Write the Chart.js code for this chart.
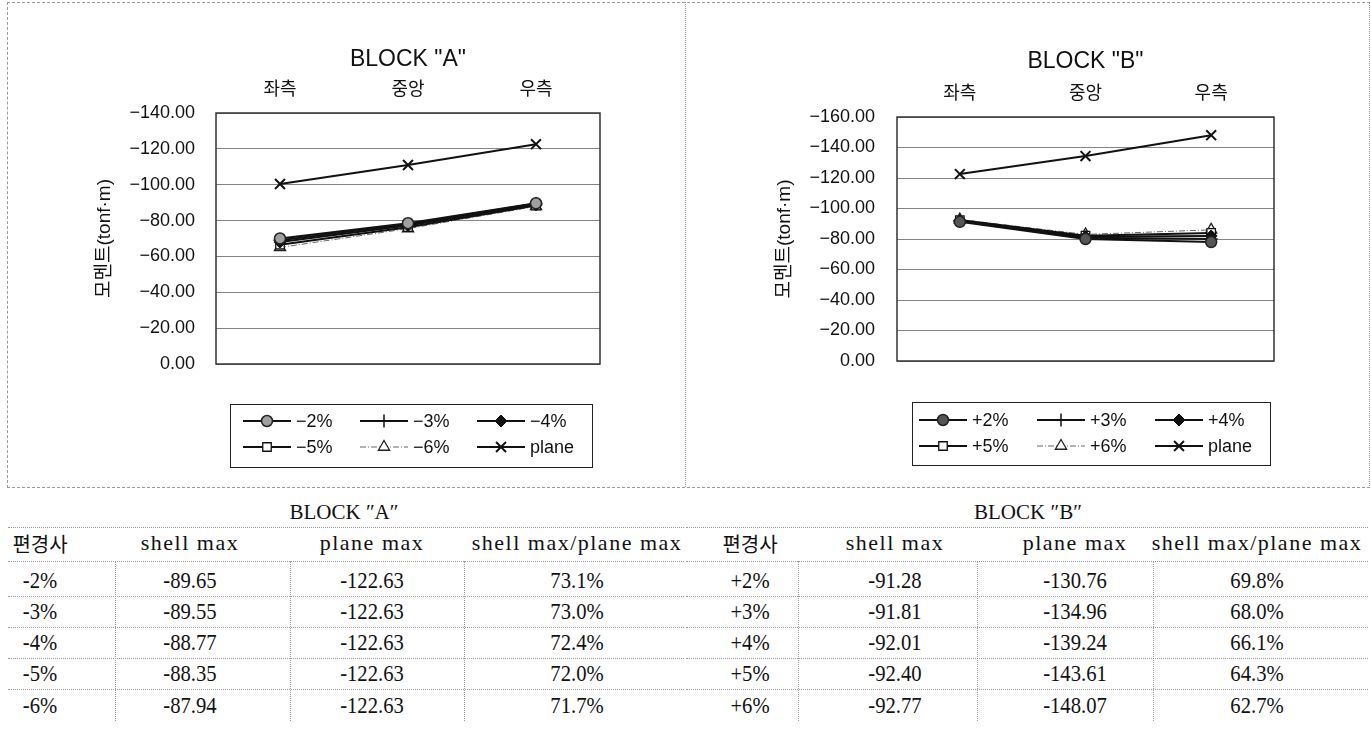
<!DOCTYPE html>
<html>
<head>
<meta charset="utf-8">
<script src="https://cdn.jsdelivr.net/npm/chart.js@4.4.1/dist/chart.umd.min.js"></script>
<style>
  html, body { margin: 0; padding: 0; background: #fff; }
  #page { position: relative; width: 1371px; height: 736px; overflow: hidden; background: #fff; }
  canvas { position: absolute; }
  .hl { position: absolute; height: 0; border-top: 1px dotted #9a9a9a; }
  .vl { position: absolute; width: 0; border-left: 1px dotted #9a9a9a; }
  .cell { position: absolute; transform: translate(-50%, -50%) scaleX(0.86); white-space: nowrap;
          font-family: 'Liberation Serif', 'Noto Sans CJK KR', serif; font-size: 24px; color: #111; }
  .txt { transform: translate(-50%, -50%); font-size: 22px; letter-spacing: 1.5px; }
  .kr { transform: translate(-50%, -50%); font-size: 20px; }
  .ttl { transform: translate(-50%, -50%); font-size: 21px; }
</style>
</head>
<body>
<div id="page">
  <div style="position:absolute;left:7px;top:2px;width:1361px;height:484px;border:1px dashed #9a9a9a;border-right-style:dotted;"></div>
  <div class="vl" style="left:685px;top:2px;height:485px;"></div>
  <canvas id="chartA" width="676" height="485" style="left:8px;top:2px;width:676px;height:485px;"></canvas>
  <canvas id="chartB" width="683" height="485" style="left:686px;top:2px;width:683px;height:485px;"></canvas>
  <div id="tables"></div>
</div>
<script>
// Positions along the span (top category axis)
const positions = ['좌측', '중앙', '우측'];

// BLOCK "A" moments (tonf·m), negative slope cases
const aSeriesLabels = ['−2%', '−3%', '−4%', '−5%', '−6%', 'plane'];
const aMinus2 = [-70.0, -78.5, -89.65];
const aMinus3 = [-69.0, -78.0, -89.55];
const aMinus4 = [-68.0, -77.2, -88.77];
const aMinus5 = [-66.5, -76.3, -88.35];
const aMinus6 = [-65.0, -75.5, -87.94];
const aPlane  = [-100.4, -111.0, -122.63];

// BLOCK "B" moments (tonf·m), positive slope cases
const bSeriesLabels = ['+2%', '+3%', '+4%', '+5%', '+6%', 'plane'];
const bPlus2 = [-91.28, -80.0, -78.0];
const bPlus3 = [-91.81, -80.8, -80.0];
const bPlus4 = [-92.01, -81.5, -82.0];
const bPlus5 = [-92.40, -82.2, -84.0];
const bPlus6 = [-92.77, -83.0, -86.0];
const bPlane = [-122.6, -134.4, -148.07];

// Axis ticks
const aTicks = [0, -20, -40, -60, -80, -100, -120, -140];
const bTicks = [0, -20, -40, -60, -80, -100, -120, -140, -160];

// Summary tables
const slopeA = ['-2%', '-3%', '-4%', '-5%', '-6%'];
const shellMaxA = [-89.65, -89.55, -88.77, -88.35, -87.94];
const planeMaxA = [-122.63, -122.63, -122.63, -122.63, -122.63];
const ratioA = [73.1, 73.0, 72.4, 72.0, 71.7];

const slopeB = ['+2%', '+3%', '+4%', '+5%', '+6%'];
const shellMaxB = [-91.28, -91.81, -92.01, -92.40, -92.77];
const planeMaxB = [-130.76, -134.96, -139.24, -143.61, -148.07];
const ratioB = [69.8, 68.0, 66.1, 64.3, 62.7];

const tableHeads = ['편경사', 'shell max', 'plane max', 'shell max/plane max'];

const SANS = "'Liberation Sans', 'Noto Sans CJK KR', Arial, sans-serif";

function seriesStyles(circleFill) {
  return [
    { borderColor: '#111', borderWidth: 2, pointStyle: 'circle', pointRadius: 5.5,
      pointBackgroundColor: circleFill, pointBorderColor: '#222', pointBorderWidth: 1.5 },
    { borderColor: '#111', borderWidth: 2, pointStyle: 'cross', pointRadius: 6.5,
      pointBackgroundColor: '#111', pointBorderColor: '#111', pointBorderWidth: 1.5 },
    { borderColor: '#111', borderWidth: 2, pointStyle: 'rectRot', pointRadius: 6,
      pointBackgroundColor: '#111', pointBorderColor: '#111', pointBorderWidth: 1 },
    { borderColor: '#111', borderWidth: 2, pointStyle: 'rect', pointRadius: 6,
      pointBackgroundColor: '#fff', pointBorderColor: '#111', pointBorderWidth: 1.3 },
    { borderColor: '#666', borderWidth: 1, borderDash: [6, 2, 1, 2], pointStyle: 'triangle', pointRadius: 6.5,
      pointBackgroundColor: '#fff', pointBorderColor: '#222', pointBorderWidth: 1.3 },
    { borderColor: '#111', borderWidth: 2, pointStyle: 'crossRot', pointRadius: 7,
      pointBackgroundColor: '#111', pointBorderColor: '#111', pointBorderWidth: 2 }
  ];
}

function fmtTick(v) {
  return (v < 0 ? '−' : '') + Math.abs(v).toFixed(2);
}

// Frame around the plot area
const plotFrame = {
  id: 'plotFrame',
  beforeDatasetsDraw(chart) {
    const { ctx, chartArea: a } = chart;
    ctx.save();
    ctx.strokeStyle = '#333';
    ctx.lineWidth = 1.5;
    ctx.strokeRect(a.left, a.top, a.right - a.left, a.bottom - a.top);
    ctx.restore();
  }
};

// Boxed three-column legend under the plot, drawn from the datasets
const boxLegend = {
  id: 'boxLegend',
  afterDraw(chart, args, o) {
    const ctx = chart.ctx;
    ctx.save();
    ctx.fillStyle = '#fff';
    ctx.fillRect(o.x, o.y, o.w, o.h);
    ctx.strokeStyle = '#222';
    ctx.lineWidth = 1;
    ctx.strokeRect(o.x + 0.5, o.y + 0.5, o.w, o.h);
    ctx.font = '18px ' + SANS;
    ctx.textBaseline = 'middle';
    ctx.textAlign = 'left';
    chart.data.datasets.forEach((ds, i) => {
      const col = i % 3, row = Math.floor(i / 3);
      const lx = o.x + o.padX + col * o.colW;
      const ly = o.y + o.padY + row * o.rowH;
      ctx.save();
      ctx.strokeStyle = ds.borderColor;
      ctx.lineWidth = ds.borderWidth;
      ctx.setLineDash(ds.borderDash || []);
      ctx.beginPath();
      ctx.moveTo(lx, ly);
      ctx.lineTo(lx + o.lineLen, ly);
      ctx.stroke();
      ctx.restore();
      ctx.save();
      ctx.fillStyle = ds.pointBackgroundColor;
      ctx.strokeStyle = ds.pointBorderColor;
      ctx.lineWidth = ds.pointBorderWidth;
      Chart.helpers.drawPoint(ctx, {
        pointStyle: ds.pointStyle, radius: ds.pointRadius, rotation: 0, borderWidth: ds.pointBorderWidth
      }, lx + o.lineLen / 2, ly);
      ctx.restore();
      ctx.fillStyle = '#111';
      ctx.fillText(ds.label, lx + o.lineLen + 5, ly + 1);
    });
    ctx.restore();
  }
};

function makeChart(id, cfg) {
  const styles = seriesStyles(cfg.circleFill);
  const datasets = cfg.series.map((values, i) => Object.assign({
    label: cfg.labels[i], data: values, tension: 0, fill: false
  }, styles[i]));
  return new Chart(document.getElementById(id), {
    type: 'line',
    data: { labels: positions, datasets },
    plugins: [plotFrame, boxLegend],
    options: {
      responsive: false,
      animation: false,
      layout: { padding: cfg.padding },
      plugins: {
        legend: { display: false },
        tooltip: { enabled: false },
        title: {
          display: true, text: cfg.title, fullSize: false, color: '#111',
          font: { family: SANS, size: 23, weight: 'normal' }, padding: 0
        },
        boxLegend: cfg.legend
      },
      scales: {
        x: {
          position: 'top', offset: true,
          grid: { display: false, drawTicks: false },
          border: { display: false },
          ticks: { color: '#111', padding: 12, font: { family: SANS, size: 18 } },
          afterFit(s) { s.height = cfg.xAxisHeight; }
        },
        y: {
          reverse: true, min: cfg.ticks[cfg.ticks.length - 1], max: 0,
          afterBuildTicks(s) { s.ticks = cfg.ticks.map(v => ({ value: v })); },
          grid: { color: '#858585', lineWidth: 1, drawTicks: false },
          border: { display: false },
          ticks: { color: '#111', padding: cfg.tickPad, callback: fmtTick, font: { family: SANS, size: 18 } },
          title: {
            display: true, text: '모멘트(tonf·m)', color: '#111',
            font: { family: SANS, size: 19 }, padding: { top: cfg.titlePad, bottom: 0 }
          },
          afterFit(s) { s.width = cfg.yAxisWidth; }
        }
      }
    }
  });
}

makeChart('chartA', {
  title: 'BLOCK "A"',
  labels: aSeriesLabels,
  series: [aMinus2, aMinus3, aMinus4, aMinus5, aMinus6, aPlane],
  ticks: aTicks,
  circleFill: '#a0a0a0',
  padding: { left: 80, top: 44.2, right: 84, bottom: 123 },
  xAxisHeight: 39.2, yAxisWidth: 128, tickPad: 21, titlePad: 5.6,
  legend: { x: 222, y: 402, w: 362, h: 63, padX: 13, padY: 17, rowH: 26, colW: 117, lineLen: 48 }
});

makeChart('chartB', {
  title: 'BLOCK "B"',
  labels: bSeriesLabels,
  series: [bPlus2, bPlus3, bPlus4, bPlus5, bPlus6, bPlane],
  ticks: bTicks,
  circleFill: '#555',
  padding: { left: 80, top: 46.2, right: 95, bottom: 126 },
  xAxisHeight: 41.2, yAxisWidth: 131, tickPad: 22, titlePad: 7.6,
  legend: { x: 226, y: 400, w: 358, h: 63, padX: 7, padY: 18, rowH: 26, colW: 118, lineLen: 48 }
});

// Summary tables below the charts
function buildTable(el, o) {
  const add = (cls, css, html) => {
    const d = document.createElement('div');
    d.className = cls;
    d.style.cssText = css;
    if (html !== undefined) d.textContent = html;
    el.appendChild(d);
  };
  add('cell ttl', `left:${o.titleX}px;top:512px;`, o.title);
  tableHeads.forEach((h, c) => add('cell ' + (c > 0 ? 'txt' : 'kr'), `left:${o.cols[c]}px;top:543px;`, h));
  const rowsY = [580, 611, 642, 673, 705];
  o.slope.forEach((s, r) => {
    const y = rowsY[r];
    add('cell', `left:${o.cols[0]}px;top:${y}px;`, s);
    add('cell', `left:${o.cols[1]}px;top:${y}px;`, o.shell[r].toFixed(2));
    add('cell', `left:${o.cols[2]}px;top:${y}px;`, o.plane[r].toFixed(2));
    add('cell', `left:${o.cols[3]}px;top:${y}px;`, o.ratio[r].toFixed(1) + '%');
  });
  [527, 561, 596, 627, 658, 689].forEach(y =>
    add('hl', `left:${o.x0}px;top:${y}px;width:${o.x1 - o.x0}px;`));
  o.vlines.forEach(x => add('vl', `left:${x}px;top:561px;height:160px;`));
}

const tables = document.getElementById('tables');
buildTable(tables, {
  title: 'BLOCK ″A″', titleX: 344, x0: 8, x1: 684,
  cols: [40, 190, 372, 577], vlines: [115, 290, 464],
  slope: slopeA, shell: shellMaxA, plane: planeMaxA, ratio: ratioA
});
buildTable(tables, {
  title: 'BLOCK ″B″', titleX: 1028, x0: 686, x1: 1368,
  cols: [750, 895, 1075, 1257], vlines: [798, 977, 1153],
  slope: slopeB, shell: shellMaxB, plane: planeMaxB, ratio: ratioB
});
</script>
</body>
</html>
